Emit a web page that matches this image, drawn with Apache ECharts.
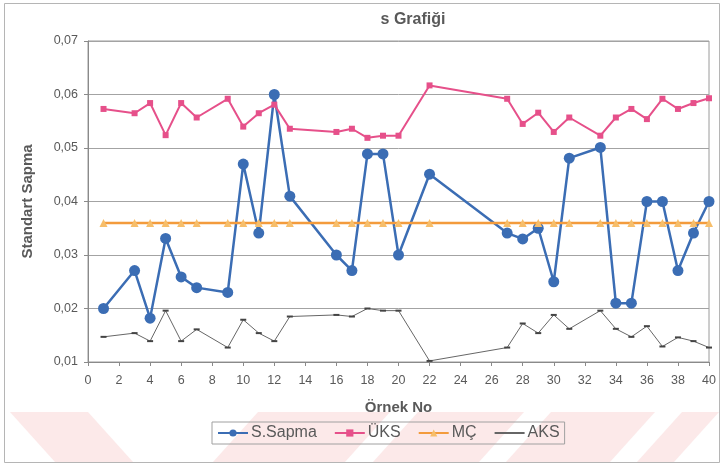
<!DOCTYPE html>
<html>
<head>
<meta charset="utf-8">
<script src="https://cdn.jsdelivr.net/npm/echarts@6/dist/echarts.min.js"></script>
<style>
  html, body { margin: 0; padding: 0; background: #ffffff; }
  #chart { width: 724px; height: 466px; }
</style>
</head>
<body>
<div id="chart"></div>
<script>
// Sample numbers (Örnek No)
const sampleNo = [1, 3, 4, 5, 6, 7, 9, 10, 11, 12, 13, 16, 17, 18, 19, 20, 22, 27, 28, 29, 30, 31, 33, 34, 35, 36, 37, 38, 39, 40];

// Standard deviation of each sample
const sSapma = [0.0200, 0.0271, 0.0182, 0.0331, 0.0259, 0.0239, 0.0230, 0.0470, 0.0341, 0.0600, 0.0410, 0.0300, 0.0271, 0.0489, 0.0489, 0.0300,
                0.0451, 0.0341, 0.0330, 0.0350, 0.0250, 0.0481, 0.0501, 0.0210, 0.0210, 0.0400, 0.0400, 0.0271, 0.0341, 0.0400];

// Upper control limit (ÜKS)
const uks = [0.0573, 0.0565, 0.0584, 0.0524, 0.0584, 0.0557, 0.0592, 0.0540, 0.0565, 0.0581, 0.0536, 0.0530, 0.0536, 0.0519, 0.0523, 0.0523,
             0.0617, 0.0592, 0.0545, 0.0566, 0.0530, 0.0557, 0.0523, 0.0557, 0.0573, 0.0554, 0.0592, 0.0573, 0.0584, 0.0593];

// Centre line (MÇ)
const mc = [0.0360, 0.0360, 0.0360, 0.0360, 0.0360, 0.0360, 0.0360, 0.0360, 0.0360, 0.0360, 0.0360, 0.0360, 0.0360, 0.0360, 0.0360, 0.0360,
            0.0360, 0.0360, 0.0360, 0.0360, 0.0360, 0.0360, 0.0360, 0.0360, 0.0360, 0.0360, 0.0360, 0.0360, 0.0360, 0.0360];

// Lower control limit (AKS)
const aks = [0.0147, 0.0154, 0.0139, 0.0196, 0.0139, 0.0161, 0.0127, 0.0179, 0.0154, 0.0139, 0.0185, 0.0188, 0.0185, 0.0200, 0.0196, 0.0196,
             0.0102, 0.0127, 0.0172, 0.0154, 0.0188, 0.0162, 0.0196, 0.0162, 0.0147, 0.0167, 0.0129, 0.0146, 0.0139, 0.0127];

const seriesNames = ['S.Sapma', 'ÜKS', 'MÇ', 'AKS'];

const pairs = vals => sampleNo.map((x, i) => [x, vals[i]]);

const FONT = '"Liberation Sans", Arial, sans-serif';
const TXT = '#595959';

// Light diagonal watermark bands along the bottom edge
const pink = '#fce9e9';
const bandTop = 412, bandBot = 462, slant = 45;
const bands = [];
bands.push([[10, bandTop], [88, bandTop], [88 + slant, bandBot], [10 + slant, bandBot]]);
const slashStarts = [258, 418, 551, 682];
const slashEnds = [390, 524, 655, 719];
for (let i = 0; i < slashStarts.length; i++) {
  const a = slashStarts[i], b = slashEnds[i];
  bands.push([[a, bandTop], [b, bandTop], [b - slant, bandBot], [a - slant, bandBot]]);
}
const bandGraphics = bands.map(pts => ({
  type: 'polygon',
  z: -10,
  silent: true,
  shape: { points: pts.map(p => [Math.max(5, Math.min(719, p[0])), p[1]]) },
  style: { fill: pink }
}));

const chart = echarts.init(document.getElementById('chart'), null, { renderer: 'canvas' });

chart.setOption({
  backgroundColor: '#ffffff',
  animation: false,
  textStyle: { fontFamily: FONT },
  graphic: [
    ...bandGraphics,
    {
      type: 'rect',
      z: -5,
      silent: true,
      shape: { x: 4.5, y: 3.5, width: 715, height: 459 },
      style: { fill: 'transparent', stroke: '#b5b5b5', lineWidth: 1 }
    }
  ],
  title: {
    text: 's Grafiği',
    left: 408,
    top: 7,
    textAlign: 'center',
    textStyle: { fontFamily: FONT, fontSize: 16, fontWeight: 'bold', color: TXT }
  },
  legend: {
    data: [
      { name: seriesNames[0] },
      { name: seriesNames[1] },
      { name: seriesNames[2] },
      { name: seriesNames[3], itemStyle: { opacity: 0 } }
    ],
    left: 212,
    top: 422,
    orient: 'horizontal',
    padding: [3, 5, 3, 5],
    borderColor: '#a0a0a0',
    borderWidth: 1,
    itemGap: 17,
    itemWidth: 30,
    itemHeight: 9,
    textStyle: { fontFamily: FONT, fontSize: 16, color: TXT, padding: [0, 0, 0, -2] }
  },
  grid: {
    left: 88,
    right: 15,
    top: 41,
    bottom: 104,
    show: true,
    borderColor: '#9a9a9a',
    borderWidth: 1,
    backgroundColor: 'transparent'
  },
  xAxis: {
    type: 'value',
    min: 0,
    max: 40,
    interval: 2,
    name: 'Örnek No',
    nameLocation: 'middle',
    nameGap: 38,
    nameTextStyle: { fontFamily: FONT, fontSize: 15, fontWeight: 'bold', color: TXT },
    axisLine: { show: true, lineStyle: { color: '#8a8a8a', width: 1 } },
    axisTick: { show: true, length: 4, lineStyle: { color: '#8a8a8a' } },
    axisLabel: { fontFamily: FONT, fontSize: 12.5, color: TXT, margin: 12 },
    splitLine: { show: false }
  },
  yAxis: {
    type: 'value',
    min: 0.01,
    max: 0.07,
    interval: 0.01,
    name: 'Standart Sapma',
    nameLocation: 'middle',
    nameGap: 53,
    nameRotate: 90,
    nameTextStyle: { fontFamily: FONT, fontSize: 15, fontWeight: 'bold', color: TXT },
    axisLine: { show: true, lineStyle: { color: '#8a8a8a', width: 1 } },
    axisTick: { show: true, length: 4, lineStyle: { color: '#8a8a8a' } },
    axisLabel: {
      fontFamily: FONT, fontSize: 12.5, color: TXT, margin: 10,
      formatter: v => v.toFixed(2).replace('.', ',')
    },
    splitLine: { show: true, lineStyle: { color: '#a3a3a3', width: 1 } }
  },
  series: [
    {
      name: seriesNames[0],
      type: 'line',
      data: pairs(sSapma),
      z: 3,
      symbol: 'circle',
      symbolSize: 11,
      showAllSymbol: true,
      color: '#3b6db4',
      lineStyle: { color: '#3b6db4', width: 2.5 },
      itemStyle: { color: '#3b6db4', borderWidth: 0 }
    },
    {
      name: seriesNames[1],
      type: 'line',
      data: pairs(uks),
      z: 4,
      symbol: 'rect',
      symbolSize: 6,
      color: '#e6508a',
      lineStyle: { color: '#e6508a', width: 2 },
      itemStyle: { color: '#e6508a', borderWidth: 0 }
    },
    {
      name: seriesNames[2],
      type: 'line',
      data: pairs(mc),
      z: 5,
      symbol: 'triangle',
      symbolSize: 8,
      color: '#f39b3c',
      lineStyle: { color: '#f39b3c', width: 2.5 },
      itemStyle: { color: '#f7be6a', borderWidth: 0 }
    },
    {
      name: seriesNames[3],
      type: 'line',
      data: pairs(aks),
      z: 6,
      symbol: 'rect',
      symbolSize: [6, 2],
      color: '#555555',
      lineStyle: { color: '#666666', width: 1 },
      itemStyle: { color: '#444444', borderWidth: 0 }
    }
  ]
});
</script>
</body>
</html>
